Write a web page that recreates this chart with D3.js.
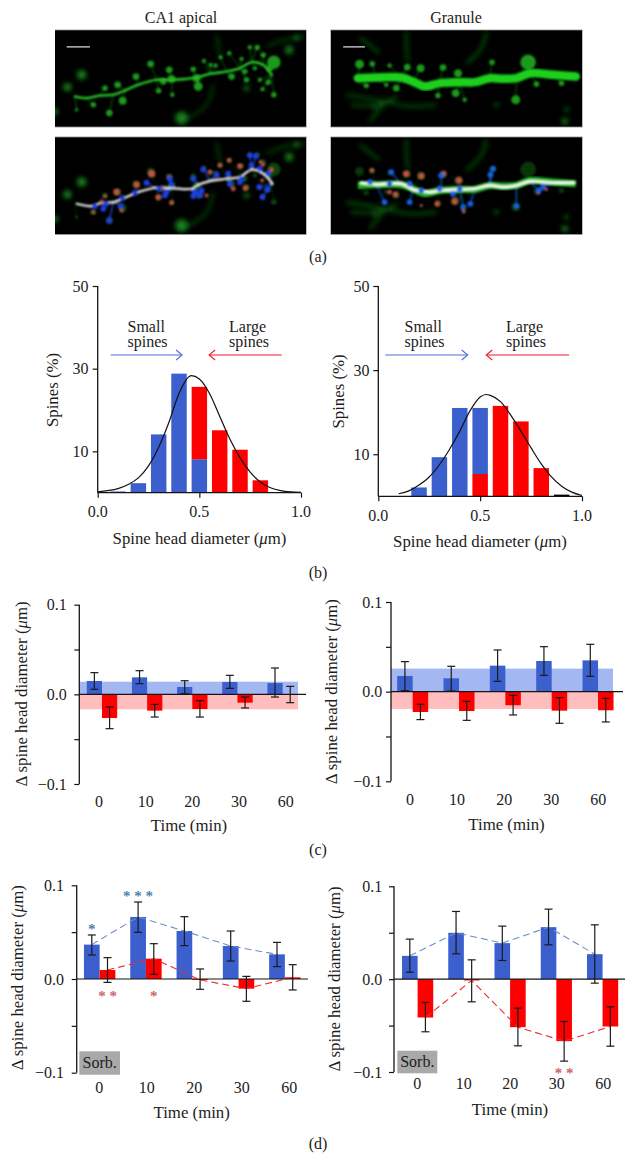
<!DOCTYPE html>
<html><head><meta charset="utf-8">
<script src="https://d3js.org/d3.v7.min.js"></script>
<style>
html,body{margin:0;padding:0;background:#fff}
svg{display:block}
text{font-family:"Liberation Serif",serif;fill:#1c1c1c}
</style></head><body>
<div id="chart"></div>
<script>
// ---------- panel (a): micrograph features, in image coordinates (0-755 x 0-292) ----------
const caDendrite=[[60,200],[95,205],[135,197],[175,195],[210,182],[250,165],[305,150],[350,150],[385,148],[425,143],[465,132],[515,125],[555,115],[590,97],[625,105],[650,135]];
const caSpines=[[287,102,6],[343,120,6],[243,140,6],[188,165,6],[150,175,5],[115,225,5],[163,250,6],[203,213,7],[65,240,3],[311,183,5],[352,195,4],[325,155,6],[350,147,7],[425,145,7],[430,170,8],[415,118,5],[447,93,4],[467,105,4],[482,107,4],[497,82,4],[523,70,4],[560,87,4],[585,52,4],[607,53,5],[625,75,5],[657,97,12],[645,115,6],[530,140,6],[575,150,5],[570,125,5],[615,150,4],[640,157,5],[623,178,4],[657,195,5],[600,115,4]];
const caDim=[[80,135,9],[37,172,8],[725,23,5],[703,60,8],[575,175,5],[0,245,6],[380,265,12]];
const caDimPaths=[[[635,50],[685,30],[750,20]],[[485,15],[495,75]],[[385,275],[455,225],[475,165]]];
const caWhite=[[65,200],[110,207],[140,197],[175,195],[210,182],[250,165],[305,152],[350,153],[410,155],[430,143],[465,132],[515,125],[555,120],[590,98],[625,110],[653,140]];
const caBlue=[[120,207],[153,200],[145,215],[163,250],[202,183],[197,207],[240,167],[275,137],[313,155],[335,165],[330,175],[345,125],[350,143],[415,125],[420,165],[440,160],[415,177],[435,175],[445,97],[485,113],[520,110],[525,140],[560,125],[590,85],[585,55],[603,57],[615,95],[640,110],[637,157],[623,180],[613,150],[555,135]];
const caRed=[[290,110,7],[245,143,6],[185,165,6],[150,177,3],[140,193,3],[115,225,3],[200,220,3],[310,180,5],[350,197,4],[343,120,4],[320,153,4],[465,105,4],[495,85,4],[523,70,4],[555,87,5],[535,155,4],[572,153,5],[455,175,3],[617,75,3],[625,82,3],[650,98,4],[622,130,3]];
const grDendrite=[[82,145],[137,143],[212,143],[247,155],[282,170],[327,160],[387,157],[432,157],[477,145],[517,147],[557,145],[597,130],[667,135],[735,140]];
const grSpines=[[87,103,8],[125,102,5],[177,107,4],[230,112,6],[270,115,7],[337,113,6],[382,130,7],[484,97,5],[592,97,14],[555,210,8],[375,190,7],[322,197,5],[617,163,5],[197,175,6],[167,165,4],[107,167,5],[402,210,4],[692,160,5]];
const grDim=[[497,225,4],[702,275,6],[707,240,4],[132,235,3]];
const grDimPaths=[[[227,5],[227,45],[232,95]],[[467,5],[452,55],[407,100]],[[47,195],[137,210],[237,230],[317,225]],[[167,215],[117,275]],[[87,25],[117,45],[147,70]],[[60,225],[140,225],[200,200]]];
const grWhite=[[92,138],[137,142],[212,140],[247,157],[297,165],[332,160],[387,157],[432,155],[477,145],[517,150],[557,145],[597,133],[667,137],[729,137]];
const grBlue=[[119,135],[177,140],[182,105],[162,195],[237,140],[237,195],[332,115],[327,155],[272,160],[367,170],[387,155],[397,210],[419,200],[487,95],[479,113],[557,207],[637,150],[624,160]];
const grRed=[[124,100,4],[227,110,6],[272,117,6],[339,110,5],[385,130,6],[177,165,4],[195,172,5],[320,200,5],[372,193,6],[272,205,2],[399,223,3],[647,157,2],[622,167,3]];
const panelATitles=["CA1 apical","Granule"];
const panelLabels=["(a)","(b)","(c)","(d)"];

// ---------- panel (b): histograms ----------
const binCentres=[0.1,0.2,0.3,0.4,0.5,0.6,0.7,0.8,0.9];
const caSmallPct=[0.3,2.3,14.1,28.8,8.1,0,0,0,0];
const caLargePct=[0,0,0,0,25.6,15.1,10.4,3.0,0];
const caFitX=[0,0.05,0.1,0.15,0.2,0.25,0.3,0.35,0.4,0.45,0.46,0.5,0.55,0.6,0.65,0.7,0.75,0.8,0.85,0.9,0.95,1];
const caFitY=[0.2,0.5,1,2,3.6,6.5,11,17,24,28.1,28.3,27.5,24,18.5,13,8.5,5,2.6,1.2,0.5,0.2,0.1];
const grSmallPct=[0,2.1,9.3,21,21,0,0,0,0];
const grLargePct=[0,0,0,0,5.3,21.5,17.8,6.7,0];
const grOtherPct=[0,0,0,0,0,0,0,0,0.4];
const grFitX=[0.1,0.15,0.2,0.25,0.3,0.35,0.4,0.45,0.5,0.53,0.55,0.6,0.65,0.7,0.75,0.8,0.85,0.9,0.95,1];
const grFitY=[0.6,1.3,2.7,4.6,7.5,11.2,15.5,20.3,23.6,24.2,24,22.5,19.3,15.5,11.5,7.7,4.6,2.4,1,0.2];
const diamTicks=[0,0.5,1];
const pctTicks=[10,30,50];

// ---------- panels (c), (d): bars with error limits ----------
const times=["0","10","20","30","60"];
const deltaTicks=[-0.1,-0.05,0,0.05,0.1];
const c1Blue=[0.0149,0.019,0.0082,0.0138,0.0126];
const c1Red=[-0.0264,-0.0182,-0.0164,-0.0093,0];
const c1BlueHi=[0.0242,0.0264,0.0152,0.0212,0.0294];
const c1BlueLo=[0.0056,0.0119,0.0007,0.0067,-0.003];
const c1RedHi=[-0.0141,-0.0112,-0.0071,-0.003,0.0089];
const c1RedLo=[-0.0383,-0.0253,-0.0253,-0.0152,-0.0093];
const c1Band=[0.0141,-0.0167];
const c2Blue=[0.0175,0.0149,0.029,0.0342,0.0349];
const c2Red=[-0.0227,-0.0216,-0.0152,-0.0212,-0.0208];
const c2BlueHi=[0.0335,0.0283,0.0465,0.0502,0.0528];
const c2BlueLo=[0.0011,0.0007,0.0115,0.0182,0.0171];
const c2RedHi=[-0.0141,-0.0108,-0.0041,-0.0067,-0.0074];
const c2RedLo=[-0.0312,-0.032,-0.026,-0.0353,-0.0338];
const c2Band=[0.0257,-0.0193];
const d1Blue=[0.0367,0.0662,0.0512,0.0352,0.0263];
const d1Red=[0.0096,0.0217,-0.001,-0.0103,0.0018];
const d1BlueHi=[0.047,0.0822,0.0665,0.0512,0.0391];
const d1BlueLo=[0.0256,0.0498,0.0356,0.0192,0.0132];
const d1RedHi=[0.0228,0.0377,0.0107,0.0028,0.0153];
const d1RedLo=[-0.0036,0.005,-0.011,-0.0238,-0.0117];
const d2Blue=[0.0251,0.0499,0.0388,0.056,0.0269];
const d2Red=[-0.0413,-0.0014,-0.0517,-0.0668,-0.051];
const d2BlueHi=[0.0431,0.0729,0.0571,0.0754,0.0585];
const d2BlueLo=[0.0075,0.0273,0.0201,0.037,-0.0043];
const d2RedHi=[-0.0251,0.0208,-0.0312,-0.0456,-0.0298];
const d2RedLo=[-0.0567,-0.0244,-0.0718,-0.0883,-0.0722];
const d1Stars=[["blue","0","*",0.0566],["blue","10","* * *",0.0922],["red","0","* *",-0.0146],["red","10","*",-0.0153]];
const d2Stars=[["red","30","* *",-0.0977]];

const BLUE="#3b5fcd",RED="#ff0000",LBLUE="#a3b8f3",LRED="#ffbdbd",INK="#141414";
const FS=16, TITLE=16.8;
const svg=d3.select("#chart").append("svg").attr("width",636).attr("height",1161);
const defs=svg.append("defs");
[["b05",0.8],["b1",1.2],["b2",2.4]].forEach(([id,s])=>defs.append("filter").attr("id",id)
  .attr("x","-30%").attr("y","-30%").attr("width","160%").attr("height","160%")
  .append("feGaussianBlur").attr("stdDeviation",s));

function label(x,y,t,anchor="middle",size=FS){
  return svg.append("text").attr("x",x).attr("y",y).attr("text-anchor",anchor).attr("font-size",size).text(t);
}
function muLabel(x,y,pre,rot){
  const t=svg.append("text").attr("text-anchor","middle").attr("font-size",TITLE)
    .attr("transform",`translate(${x},${y})`+(rot?" rotate(-90)":""));
  t.append("tspan").text(pre+" (");
  t.append("tspan").attr("font-style","italic").text("\u03bc");
  t.append("tspan").text("m)");
}

// ---- (a) ----
const line=d3.line().curve(d3.curveCatmullRom);
function micrograph(box,spec){
  const x=d3.scaleLinear().domain([0,755]).range([box[0],box[1]]);
  const y=d3.scaleLinear().domain([0,292]).range([box[2],box[3]]);
  const clipId="c"+Math.round(box[0])+Math.round(box[2]);
  defs.append("clipPath").attr("id",clipId).append("rect")
    .attr("x",box[0]).attr("y",box[2]).attr("width",box[1]-box[0]).attr("height",box[3]-box[2]);
  const g=svg.append("g").attr("clip-path",`url(#${clipId})`);
  g.append("rect").attr("x",box[0]).attr("y",box[2]).attr("width",box[1]-box[0]).attr("height",box[3]-box[2]).attr("fill","#000");
  const path=line.x(d=>x(d[0])).y(d=>y(d[1]));
  const dimG=g.append("g").attr("filter","url(#b2)");
  spec.dimPaths.forEach(p=>dimG.append("path").attr("d",path(p)).attr("fill","none").attr("stroke","#0d5a10").attr("stroke-width",spec.dimW));
  dimG.selectAll("circle").data(spec.dim).join("circle").attr("cx",d=>x(d[0])).attr("cy",d=>y(d[1])).attr("r",d=>d[2]/1.9).attr("fill","#14801a");
  const mainG=g.append("g").attr("filter","url(#b05)").attr("opacity",spec.overlay?spec.dimOpacity:1);
  spec.spines.forEach(s=>{
    const n=d3.least(spec.dendrite,p=>(p[0]-s[0])**2+(p[1]-s[1])**2);
    mainG.append("line").attr("x1",x(s[0])).attr("y1",y(s[1])).attr("x2",x(n[0])).attr("y2",y(n[1])).attr("stroke","#0e6a10").attr("stroke-width",0.9);
  });
  mainG.selectAll("circle").data(spec.spines).join("circle").attr("cx",d=>x(d[0])).attr("cy",d=>y(d[1])).attr("r",d=>d[2]/1.8).attr("fill","#1e9a1f");
  if(spec.glow) g.append("path").attr("d",path(spec.dendrite)).attr("fill","none").attr("stroke","#1fae1f").attr("stroke-width",spec.glow).attr("filter","url(#b1)");
  g.append("path").attr("d",path(spec.dendrite)).attr("fill","none").attr("stroke",spec.color).attr("stroke-width",spec.overlay?0:spec.width).attr("stroke-linecap","round").attr("filter","url(#b1)");
  if(spec.overlay){
    const o=g.append("g").attr("filter","url(#b05)");
    spec.blue.forEach(s=>{
      const n=d3.least(spec.white,p=>(p[0]-s[0])**2+(p[1]-s[1])**2);
      o.append("line").attr("x1",x(s[0])).attr("y1",y(s[1])).attr("x2",x(n[0])).attr("y2",y(n[1])).attr("stroke",spec.blueColor).attr("stroke-width",1.1);
    });
    o.append("path").attr("d",path(spec.white)).attr("fill","none").attr("stroke","#f6f6f6").attr("stroke-width",spec.whiteW).attr("stroke-linecap","round");
    o.selectAll("circle.r").data(spec.red).join("circle").attr("class","r").attr("cx",d=>x(d[0])).attr("cy",d=>y(d[1])).attr("r",d=>d[2]/2.2+0.6).attr("fill","#c0553f");
    o.selectAll("circle.bl").data(spec.blue).join("circle").attr("class","bl").attr("cx",d=>x(d[0])).attr("cy",d=>y(d[1])).attr("r",2.9).attr("fill",spec.blueColor);
  } else {
    g.append("line").attr("x1",x(spec.bar[0])).attr("x2",x(spec.bar[1])).attr("y1",y(51)).attr("y2",y(51)).attr("stroke","#dddddd").attr("stroke-width",1.3);
  }
  svg.append("line").attr("x1",box[0]).attr("x2",box[1]).attr("y1",box[2]).attr("y2",box[2]).attr("stroke","#8a8a8a").attr("stroke-width",0.8);
  svg.append("line").attr("x1",box[0]).attr("x2",box[1]).attr("y1",box[3]).attr("y2",box[3]).attr("stroke","#8a8a8a").attr("stroke-width",0.8);
}
const caBase={dendrite:caDendrite,spines:caSpines,dim:caDim,dimPaths:caDimPaths,color:"#25c025",width:2.6,dimW:2,bar:[35,105],whiteW:2.2};
const grBase={dendrite:grDendrite,spines:grSpines,dim:grDim,dimPaths:grDimPaths,color:"#1fd11f",width:8.5,dimW:2.6,bar:[38,103],whiteW:3.6};
micrograph([55,306.5,30,127],caBase);
micrograph([330.5,582.5,30,127],grBase);
micrograph([55,306.5,137,234.5],{...caBase,overlay:true,dimOpacity:0.45,white:caWhite,blue:caBlue,red:caRed,blueColor:"#1c3fe6"});
micrograph([330.5,582.5,137,234.5],{...grBase,overlay:true,dimOpacity:0.35,glow:7,white:grWhite,blue:grBlue,red:grRed,blueColor:"#1262e6"});
label(181,23,panelATitles[0]);
label(456,23,panelATitles[1]);

// ---- (b) ----
function histogram(o){
  const x=d3.scaleLinear().domain([0,1]).range(o.xr);
  const y=d3.scaleLinear().domain([0,50]).range(o.yr);
  const bw=x(0.076)-x(0);
  const g=svg.append("g");
  g.selectAll("rect.l").data(o.low).join("rect").attr("class","l")
    .attr("x",(d,i)=>x(binCentres[i])-bw/2).attr("width",bw)
    .attr("y",d=>y(d)).attr("height",d=>y(0)-y(d)).attr("fill",o.lowColor);
  g.selectAll("rect.h").data(o.high).join("rect").attr("class","h")
    .attr("x",(d,i)=>x(binCentres[i])-bw/2).attr("width",bw)
    .attr("y",(d,i)=>y(d)).attr("height",(d,i)=>d>o.low[i]?y(o.low[i])-y(d):0).attr("fill",o.highColor);
  if(o.other) g.selectAll("rect.o").data(o.other).join("rect").attr("class","o")
    .attr("x",(d,i)=>x(binCentres[i])-bw/2).attr("width",bw)
    .attr("y",d=>y(d)).attr("height",d=>y(0)-y(d)).attr("fill","#000");
  const fit=d3.line().curve(d3.curveMonotoneX).x((d,i)=>x(o.fx[i])).y(d=>y(d));
  g.append("path").attr("d",fit(o.fy)).attr("fill","none").attr("stroke","#111").attr("stroke-width",1.2);
  const ax=svg.append("g").attr("transform",`translate(0,${y(0)})`).call(d3.axisBottom(x).tickValues(diamTicks).tickSize(5).tickFormat(()=>""));
  const ay=svg.append("g").attr("transform",`translate(${x(0)},0)`).call(d3.axisLeft(y).tickValues(pctTicks).tickSize(5).tickFormat(()=>""));
  ax.select(".domain").attr("d",`M${x(0)},0H${x(1)}`).attr("stroke",INK).attr("stroke-width",1.3).attr("fill","none");
  ay.select(".domain").attr("d",`M0,${y(50)}V${y(0)}`).attr("stroke",INK).attr("stroke-width",1.3).attr("fill","none");
  [ax,ay].forEach(a=>a.selectAll(".tick line").attr("stroke",INK).attr("stroke-width",1.2));
  diamTicks.forEach(t=>label(x(t),o.xTickY,t.toFixed(1)));
  pctTicks.forEach(t=>label(o.yTickX,y(t)+5.5,String(t),"end"));
  muLabel(o.xLabelX,o.xLabelY,"Spine head diameter",false);
  svg.append("text").attr("text-anchor","middle").attr("font-size",TITLE)
    .attr("transform",`translate(${o.yLabelX},${o.yLabelY}) rotate(-90)`).text("Spines (%)");
  const arrow=(a,b,c)=>{
    const ya=y(o.arrowV), s=Math.sign(x(b)-x(a));
    svg.append("path").attr("d",d3.line()([[x(a),ya],[x(b),ya]])).attr("stroke",c).attr("stroke-width",1.1).attr("fill","none");
    svg.append("path").attr("d",d3.line()([[x(b)-s*6,ya-5],[x(b),ya],[x(b)-s*6,ya+5]])).attr("stroke",c).attr("stroke-width",1.1).attr("fill","none");
  };
  arrow(o.smallArrow[0],o.smallArrow[1],"#4a6fd6");
  arrow(o.largeArrow[0],o.largeArrow[1],"#ee1c2e");
  label(o.smallX,332,"Small","start");label(o.smallX,347,"spines","start");
  label(o.largeX,332,"Large","start");label(o.largeX,347,"spines","start");
}
histogram({xr:[97.7,301],yr:[492.7,286],low:caSmallPct,high:caLargePct,lowColor:BLUE,highColor:RED,
  fx:caFitX,fy:caFitY,xTickY:517,yTickX:88.5,xLabelX:199.5,xLabelY:544,yLabelX:58,yLabelY:390,
  arrowV:33.3,smallArrow:[0.064,0.415],largeArrow:[0.905,0.548],smallX:127.5,largeX:229});
histogram({xr:[378.3,582],yr:[496.3,286],low:grLargePct,high:grSmallPct,lowColor:RED,highColor:BLUE,other:grOtherPct,
  fx:grFitX,fy:grFitY,xTickY:520.5,yTickX:369.5,xLabelX:480,xLabelY:547,yLabelX:344,yLabelY:391.5,
  arrowV:33.6,smallArrow:[0.034,0.439],largeArrow:[0.937,0.53],smallX:404.5,largeX:506});

// ---- (c), (d) ----
function barPanel(o){
  const y=d3.scaleLinear().domain([-0.1,0.1]).range(o.yr);
  const band=d3.scaleBand().domain(times).range(o.xr).padding(0);
  const mid=t=>band(t)+band.bandwidth()/2;
  const bw=o.bw;
  const g=svg.append("g");
  if(o.band){
    g.append("rect").attr("x",o.axisX).attr("width",o.bandEnd-o.axisX).attr("y",y(o.band[0])).attr("height",y(0)-y(o.band[0])).attr("fill",LBLUE);
    g.append("rect").attr("x",o.axisX).attr("width",o.bandEnd-o.axisX).attr("y",y(0)).attr("height",y(o.band[1])-y(0)).attr("fill",LRED);
  }
  const bars=(vals,xf,c)=>g.append("g").selectAll("rect").data(vals).join("rect")
    .attr("x",(d,i)=>xf(times[i])).attr("width",bw)
    .attr("y",d=>y(Math.max(d,0))).attr("height",d=>Math.abs(y(d)-y(0))).attr("fill",c);
  bars(o.blue,t=>mid(t)-bw,BLUE);
  bars(o.red,t=>mid(t),RED);
  if(o.dashed){
    const dl=(vals,off,c)=>g.append("path").attr("d",d3.line().x((d,i)=>mid(times[i])+off).y(d=>y(d))(vals))
      .attr("fill","none").attr("stroke",c).attr("stroke-width",1.1).attr("stroke-dasharray","7,4");
    dl(o.blue,-bw/2,"#6f8fc8");
    dl(o.red,bw/2,"#ee2b33");
  }
  g.append("line").attr("x1",o.axisX).attr("x2",o.zeroEnd).attr("y1",y(0)).attr("y2",y(0)).attr("stroke",INK).attr("stroke-width",1.2);
  const errs=(hi,lo,off)=>times.forEach((t,i)=>{
    const cx=mid(t)+off;
    const e=g.append("g").attr("stroke","#1a1a1a").attr("stroke-width",1.2);
    e.append("line").attr("x1",cx).attr("x2",cx).attr("y1",y(hi[i])).attr("y2",y(lo[i]));
    [hi[i],lo[i]].forEach(v=>e.append("line").attr("x1",cx-4).attr("x2",cx+4).attr("y1",y(v)).attr("y2",y(v)));
  });
  errs(o.blueHi,o.blueLo,-bw/2);
  errs(o.redHi,o.redLo,bw/2);
  const ay=svg.append("g").attr("transform",`translate(${o.axisX},0)`).call(d3.axisLeft(y).tickValues(deltaTicks).tickSize(5).tickFormat(()=>""));
  ay.select(".domain").attr("d",`M0,${y(0.1)}V${y(-0.1)}`).attr("stroke",INK).attr("stroke-width",1.3).attr("fill","none");
  ay.selectAll(".tick line").attr("stroke",INK).attr("stroke-width",1.2);
  [-0.1,0,0.1].forEach(t=>label(o.yTickX,y(t)+5.5,(t<0?"\u2212":"")+Math.abs(t).toFixed(1),"end"));
  const tx=d3.scalePoint().domain(times).range(o.labelRange);
  times.forEach(t=>label(tx(t),o.tickY,t));
  label(o.timeX,o.timeY,"Time (min)","middle",TITLE);
  muLabel(o.yLabelX,o.yLabelY,"\u0394 spine head diameter",true);
  if(o.sorb){
    svg.append("rect").attr("x",o.sorb[0]).attr("y",o.sorb[1]).attr("width",o.sorb[2]).attr("height",o.sorb[3]).attr("fill","#a9a9a9");
    label(o.sorb[0]+o.sorb[2]/2,o.sorb[1]+16.5,"Sorb.");
  }
  (o.stars||[]).forEach(s=>{
    const cx=mid(s[1])+(s[0]==="blue"?-bw/2:bw/2);
    svg.append("text").attr("x",cx).attr("y",y(s[3])+8).attr("text-anchor","middle").attr("font-size",15)
      .attr("font-weight","bold").style("fill",s[0]==="blue"?"#4f82ad":"#c9656d").text(s[2]);
  });
}
barPanel({yr:[784,604.7],xr:[79.4,305.2],bw:15.2,axisX:79.3,zeroEnd:306,band:c1Band,bandEnd:298,
  blue:c1Blue,red:c1Red,blueHi:c1BlueHi,blueLo:c1BlueLo,redHi:c1RedHi,redLo:c1RedLo,
  yTickX:66.7,labelRange:[99,285.7],tickY:806.5,timeX:189,timeY:830.5,yLabelX:26.5,yLabelY:694});
barPanel({yr:[781.3,602],xr:[389.5,621.2],bw:15.5,axisX:391,zeroEnd:623,band:c2Band,bandEnd:613,
  blue:c2Blue,red:c2Red,blueHi:c2BlueHi,blueLo:c2BlueLo,redHi:c2RedHi,redLo:c2RedLo,
  yTickX:382.3,labelRange:[410,598.3],tickY:805,timeX:506.5,timeY:830,yLabelX:336.5,yLabelY:691.7});
barPanel({yr:[1072.7,885.3],xr:[76.5,308],bw:15.7,axisX:76.7,zeroEnd:308,dashed:true,
  blue:d1Blue,red:d1Red,blueHi:d1BlueHi,blueLo:d1BlueLo,redHi:d1RedHi,redLo:d1RedLo,stars:d1Stars,
  yTickX:64,labelRange:[99.3,289.3],tickY:1093,timeX:191.7,timeY:1118,yLabelX:22.5,yLabelY:977.7,sorb:[79.3,1051.3,40.7,23.4]});
barPanel({yr:[1072,886.3],xr:[394.5,625.7],bw:15.6,axisX:394,zeroEnd:625,dashed:true,
  blue:d2Blue,red:d2Red,blueHi:d2BlueHi,blueLo:d2BlueLo,redHi:d2RedHi,redLo:d2RedLo,stars:d2Stars,
  yTickX:382.3,labelRange:[417.3,603.3],tickY:1089.3,timeX:510,timeY:1115,yLabelX:340,yLabelY:979,sorb:[397.3,1050.7,40,22.6]});

label(318,262,panelLabels[0]);
label(318,578,panelLabels[1]);
label(318,855,panelLabels[2]);
label(318,1149,panelLabels[3]);
</script>
</body></html>
